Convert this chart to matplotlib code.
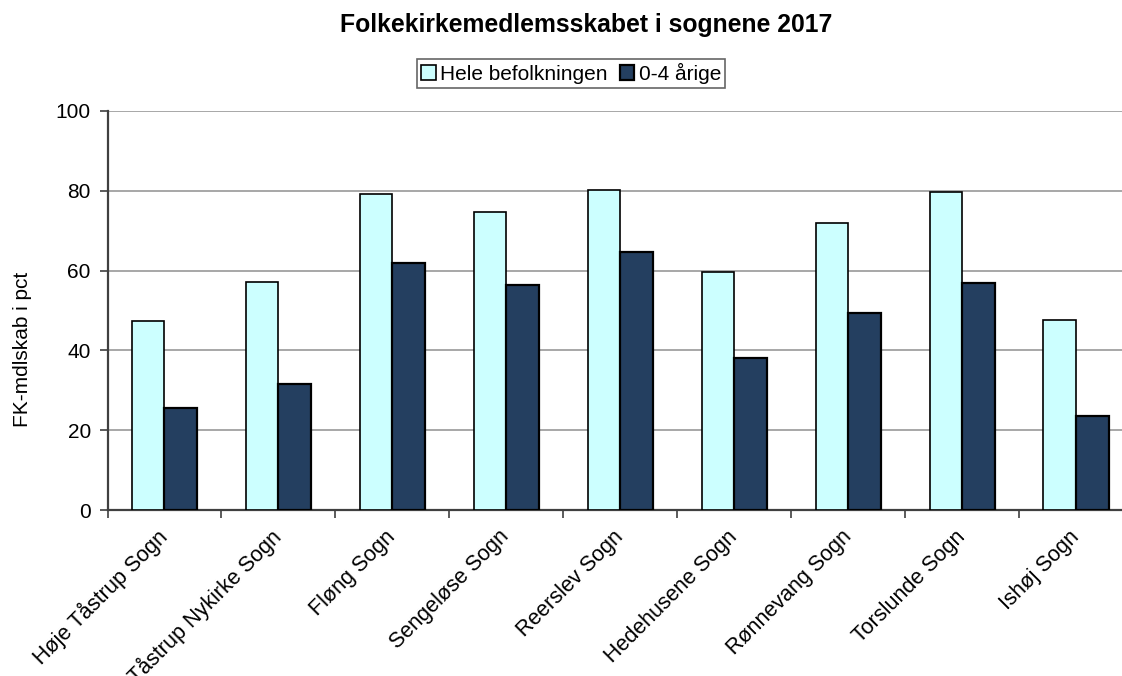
import numpy as np
import matplotlib
matplotlib.use("Agg")
import matplotlib.pyplot as plt
from matplotlib.ticker import FixedLocator

# --- data ---
sogne = ["Høje Tåstrup Sogn", "Tåstrup Nykirke Sogn", "Fløng Sogn", "Sengeløse Sogn",
         "Reerslev Sogn", "Hedehusene Sogn", "Rønnevang Sogn", "Torslunde Sogn", "Ishøj Sogn"]
hele_befolkningen = [47.3, 57.1, 79.3, 74.6, 80.3, 59.6, 72.0, 79.6, 47.5]
aarige_0_4 = [25.6, 31.6, 61.8, 56.4, 64.6, 38.1, 49.4, 56.8, 23.6]
y_ticks = [0, 20, 40, 60, 80, 100]

plt.rcParams['font.family'] = ['Liberation Sans', 'DejaVu Sans']

W, H = 1122, 676
fig = plt.figure(figsize=(W / 100, H / 100), dpi=100)
# plot area in pixel coords: left 107.5, right 1133 (runs off the image), top 111, bottom 510
ax = fig.add_axes([107.5 / W, 1 - 510 / H, (1133 - 107.5) / W, (510 - 111) / H])

x = np.arange(len(sogne))
w = 1 / 3.5  # Excel style gap width of 150 %

ax.bar(x - w / 2, hele_befolkningen, w, color='#CCFFFF', edgecolor='black',
       linewidth=1.2, label='Hele befolkningen', zorder=3)
ax.bar(x + w / 2, aarige_0_4, w, color='#243F60', edgecolor='black',
       linewidth=1.6, label='0-4 årige', zorder=3)

ax.set_xlim(-0.5, len(sogne) - 0.5)
ax.set_ylim(0, 100)
ax.set_yticks(y_ticks)
ax.yaxis.grid(True, color='#A0A0A0', linewidth=1.3, zorder=0)

for side in ['top', 'right']:
    ax.spines[side].set_visible(False)
for side in ['left', 'bottom']:
    ax.spines[side].set_color('#404040')
    ax.spines[side].set_linewidth(1.6)

ax.tick_params(axis='y', direction='out', length=6, width=1.2, color='#404040',
               labelsize=15, pad=6)
# category labels at the centers, tick marks at category boundaries
ax.set_xticks(x)
ax.set_xticklabels(sogne, rotation=45, ha='right', va='center',
                   rotation_mode='anchor', fontsize=15.5)
ax.tick_params(axis='x', which='major', length=0, pad=17)
ax.xaxis.set_minor_locator(FixedLocator(np.arange(-0.5, len(sogne), 1.0)))
ax.tick_params(axis='x', which='minor', direction='out', length=6, width=1.2, color='#404040')

fig.text(23 / W, 1 - 349 / H, 'FK-mdlskab i pct', rotation=90, ha='center', va='center',
         fontsize=15)
fig.text(586 / W, 1 - 31.7 / H, 'Folkekirkemedlemsskabet i sognene 2017', ha='center',
         va='baseline', fontsize=17.8, fontweight='bold')

leg = fig.legend(loc='center', bbox_to_anchor=(571 / W, 1 - 73.5 / H), ncol=2,
                 fontsize=15, frameon=True, fancybox=False, handlelength=0.7,
                 handleheight=0.7, handletextpad=0.2, columnspacing=0.6,
                 borderpad=0.2, borderaxespad=0)
leg.get_frame().set_edgecolor('#404040')
leg.get_frame().set_linewidth(1.2)

fig.savefig('out.png', dpi=100)
